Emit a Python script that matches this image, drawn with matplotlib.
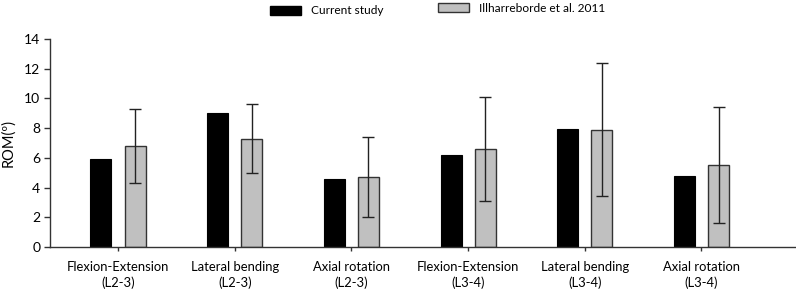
import matplotlib.pyplot as plt
from matplotlib.patches import Patch
import numpy as np

plt.rcParams['font.family'] = ['Lato', 'DejaVu Sans']

categories = ['Flexion-Extension\n(L2-3)', 'Lateral bending\n(L2-3)', 'Axial rotation\n(L2-3)',
              'Flexion-Extension\n(L3-4)', 'Lateral bending\n(L3-4)', 'Axial rotation\n(L3-4)']
current = [5.9, 9.0, 4.6, 6.2, 7.95, 4.75]
illh = [6.8, 7.3, 4.7, 6.6, 7.9, 5.5]
illh_sd = [2.5, 2.3, 2.7, 3.5, 4.5, 3.9]

x = np.arange(len(categories))
w = 0.18
off = 0.146

fig = plt.figure(figsize=(7.96, 2.89), dpi=100)
ax = fig.add_axes([50 / 796, 42 / 289, 746 / 796, 208 / 289])

ax.bar(x - off, current, w, color='black', edgecolor='black', linewidth=0.8)
ax.bar(x + off, illh, w, color='#c0c0c0', edgecolor='#333333', linewidth=1.0)
ax.errorbar(x + off, illh, yerr=illh_sd, fmt='none', ecolor='#222222',
            elinewidth=1.0, capsize=4, capthick=1.0)

ax.set_xlim(-0.583, 5.81)
ax.set_ylim(0, 14)
ax.set_yticks(range(0, 15, 2))
ax.set_xticks(x)
ax.set_xticklabels(categories, fontsize=9.4, linespacing=1.35)
ax.tick_params(axis='y', labelsize=10, length=4, width=1, color='#333333', pad=3)
ax.tick_params(axis='x', length=3, width=1, color='#333333', pad=7)
ax.set_ylabel('ROM(º)', fontsize=10.5, labelpad=6)

for s in ['top', 'right']:
    ax.spines[s].set_visible(False)
for s in ['left', 'bottom']:
    ax.spines[s].set_color('#333333')
    ax.spines[s].set_linewidth(1.0)

# two legend entries, placed separately as in the original
h1 = Patch(facecolor='black', edgecolor='black', label='Current study')
h2 = Patch(facecolor='#c0c0c0', edgecolor='#333333', label='Illharreborde et al. 2011')
leg_kw = dict(frameon=False, fontsize=8.6, handlelength=2.6, handleheight=0.84,
              handletextpad=0.8, borderpad=0, borderaxespad=0, loc='center left')
fig.legend(handles=[h1], bbox_to_anchor=(270 / 796, 1 - 11 / 289), **leg_kw)
fig.legend(handles=[h2], bbox_to_anchor=(438 / 796, 1 - 8 / 289), **leg_kw)

fig.savefig('out.png', dpi=100)
